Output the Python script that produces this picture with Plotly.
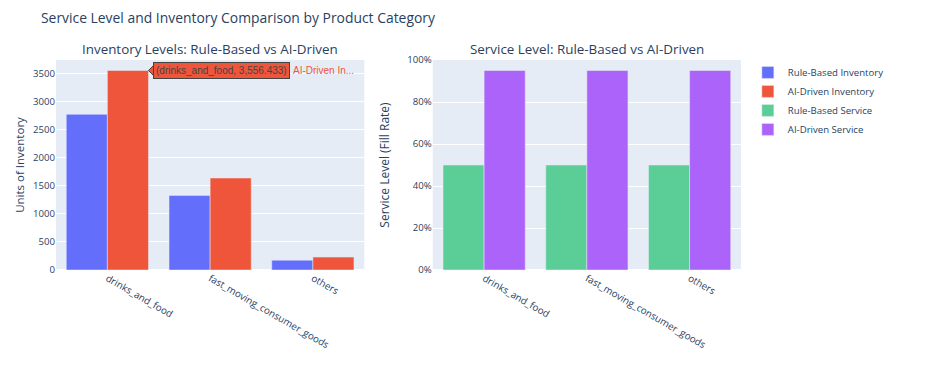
import plotly.graph_objects as go
from plotly.subplots import make_subplots

categories = ["drinks_and_food", "fast_moving_consumer_goods", "others"]
rule_inventory = [2775, 1330, 175]
ai_inventory = [3556.433, 1640, 230]
rule_service = [0.50, 0.50, 0.50]
ai_service = [0.95, 0.95, 0.95]

fig = make_subplots(rows=1, cols=2, subplot_titles=(
    "Inventory Levels: Rule-Based vs AI-Driven",
    "Service Level: Rule-Based vs AI-Driven"))

fig.add_trace(go.Bar(x=categories, y=rule_inventory, name="Rule-Based Inventory",
                     marker_color="#636EFA"), row=1, col=1)
fig.add_trace(go.Bar(x=categories, y=ai_inventory, name="AI-Driven Inventory",
                     marker_color="#EF553B"), row=1, col=1)
fig.add_trace(go.Bar(x=categories, y=rule_service, name="Rule-Based Service",
                     marker_color="#5BCE98"), row=1, col=2)
fig.add_trace(go.Bar(x=categories, y=ai_service, name="AI-Driven Service",
                     marker_color="#AB63FA"), row=1, col=2)

L, R = 0.45, 0.55
fig.update_layout(
    width=929, height=374,
    font=dict(family="Open Sans, Verdana, Arial, sans-serif", size=10),
    title=dict(text="Service Level and Inventory Comparison by Product Category",
               x=0.0355, xanchor="left", y=0.973, yanchor="middle",
               font=dict(size=13.9)),
    margin=dict(l=48, r=196, t=52, b=112, autoexpand=False),
    barmode="group",
    legend=dict(font=dict(size=9.6), x=1.01, y=1.01),
    xaxis=dict(domain=[0, L], tickangle=30, tickfont=dict(size=9.8), automargin=False),
    xaxis2=dict(domain=[R, 1], tickangle=30, tickfont=dict(size=9.8), automargin=False),
    yaxis=dict(title=dict(text="Units of Inventory", font=dict(size=11.5), standoff=6),
               tickfont=dict(size=9.6), dtick=500, automargin=False),
    yaxis2=dict(title=dict(text="Service Level (Fill Rate)", font=dict(size=12)),
                tickformat=".0%", range=[0, 1], dtick=0.2,
                tickfont=dict(size=9.6), automargin=False),
)

for i, ann in enumerate(fig.layout.annotations):
    ann.font = dict(size=13.4)
    ann.x = L / 2 if i == 0 else (R + 1) / 2

# hover label captured in the reference
fig.add_shape(type="path", xref="x", yref="y", xsizemode="pixel", ysizemode="pixel",
              xanchor=0.4, yanchor=ai_inventory[0],
              path="M 0 0 L 6 6 L 6 -6 Z", fillcolor="#EF553B",
              line=dict(color="#444", width=1))
fig.add_annotation(x=0.4, y=ai_inventory[0], xref="x", yref="y",
                   text=f"({categories[0]}, {ai_inventory[0]:,.3f})",
                   showarrow=False, xanchor="left", yanchor="middle", xshift=5,
                   bgcolor="#EF553B", bordercolor="#444", borderwidth=1,
                   borderpad=2, font=dict(family="Arial", size=10, color="#444"))
fig.add_annotation(x=0.4, y=ai_inventory[0], xref="x", yref="y",
                   text="AI-Driven In...", showarrow=False, xanchor="left",
                   yanchor="middle", xshift=143,
                   font=dict(family="Arial", size=10, color="#EF553B"))

fig.write_html("out.html")
